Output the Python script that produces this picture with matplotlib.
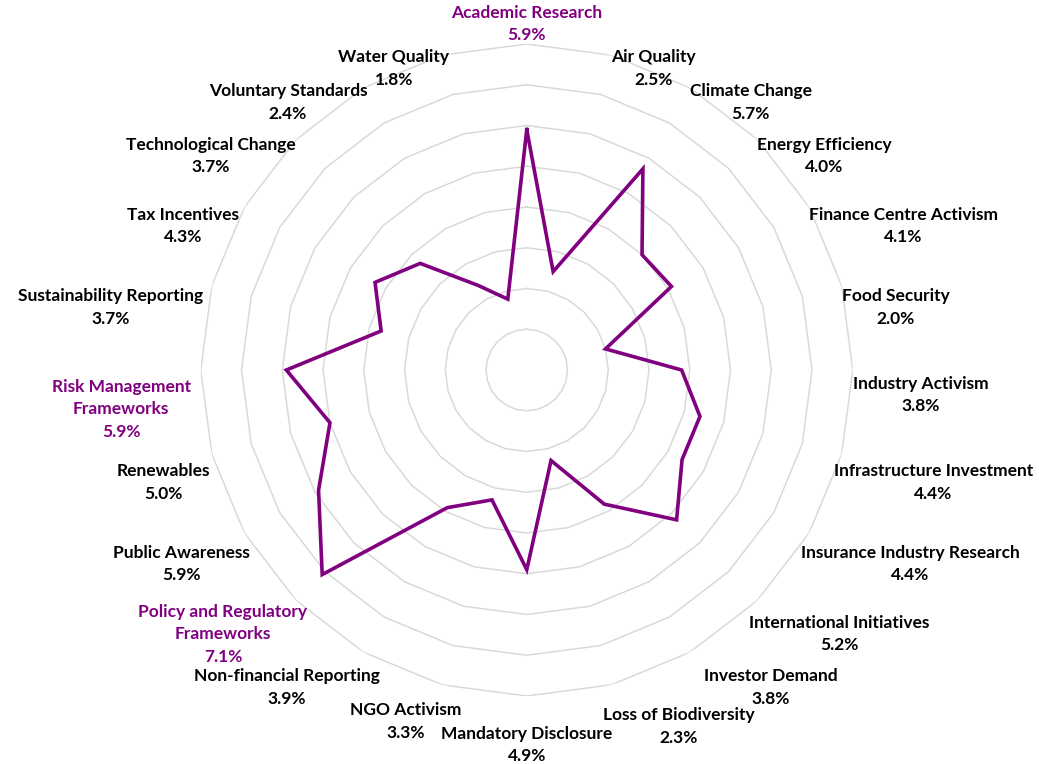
import numpy as np
import matplotlib
matplotlib.use("Agg")
from matplotlib import pyplot as plt

plt.rcParams['font.family'] = ['Lato', 'DejaVu Sans']

categories = ['Academic Research', 'Air Quality', 'Climate Change', 'Energy Efficiency',
              'Finance Centre Activism', 'Food Security', 'Industry Activism',
              'Infrastructure Investment', 'Insurance Industry Research',
              'International Initiatives', 'Investor Demand', 'Loss of Biodiversity',
              'Mandatory Disclosure', 'NGO Activism', 'Non-financial Reporting',
              'Policy and Regulatory\nFrameworks', 'Public Awareness', 'Renewables',
              'Risk Management\nFrameworks', 'Sustainability Reporting', 'Tax Incentives',
              'Technological Change', 'Voluntary Standards', 'Water Quality']
values = [5.9, 2.5, 5.7, 4.0, 4.1, 2.0, 3.8, 4.4, 4.4, 5.2, 3.8, 2.3,
          4.9, 3.3, 3.9, 7.1, 5.9, 5.0, 5.9, 3.7, 4.3, 3.7, 2.4, 1.8]
highlight = ['Academic Research', 'Policy and Regulatory\nFrameworks', 'Risk Management\nFrameworks']
rings = [1, 2, 3, 4, 5, 6, 7, 8]

purple = '#800080'
grid_col = '#D9D9D9'

n = len(categories)
theta = np.arange(n) * 2 * np.pi / n
theta_c = np.append(theta, theta[0])

fig = plt.figure(figsize=(10.39, 7.64), dpi=100)
ax = fig.add_axes([0.1932, 0.089, 0.6276, 0.8534], projection='polar')
ax.set_theta_zero_location('N')
ax.set_theta_direction(-1)
ax.set_ylim(0, 8)
ax.grid(False)
ax.spines['polar'].set_visible(False)
ax.set_xticks([])
ax.set_yticks([])

for r in rings:
    ax.plot(theta_c, [r] * (n + 1), color=grid_col, lw=1.1, zorder=1)

v = np.append(values, values[0])
ax.plot(theta_c, v, color=purple, lw=2.6, zorder=3, solid_joinstyle='miter')

px = 0.72  # points per pixel at dpi 100
nudge_x = {'Investor Demand': 22}  # excel pushed these clear of neighbours
nudge_y = {'Risk Management\nFrameworks': -14, 'Loss of Biodiversity': -5}

# labels hang off the end of each axis, drifting lower towards the bottom
for t, name, val in zip(theta, categories, values):
    s = np.sin(t)
    c = np.cos(t)
    col = purple if name in highlight else 'black'
    txt = f'{name}\n{val:.1f}%'
    if abs(s) < 0.01:
        ha = 'center'
        if c > 0:
            va, dx, dy = 'bottom', 0, 1
        else:
            va, dx, dy = 'center', 0, -49
    else:
        va = 'center'
        dy = -(13 + 12 * (1 - c))
        if s > 0:
            ha = 'left'
            dx = 0 if c > 0 else -8
        else:
            ha = 'right'
            dx = 8 - 18 * s * s if c > 0 else -10 + 30 * (-c)
    dx += nudge_x.get(name, 0)
    dy += nudge_y.get(name, 0)
    ax.annotate(txt, xy=(t, 8.0), xytext=(dx * px, dy * px), textcoords='offset points',
                ha=ha, va=va, ma='center', fontsize=12.5, fontweight='bold',
                color=col, linespacing=1.5, annotation_clip=False)

fig.savefig('out.png', dpi=100)
